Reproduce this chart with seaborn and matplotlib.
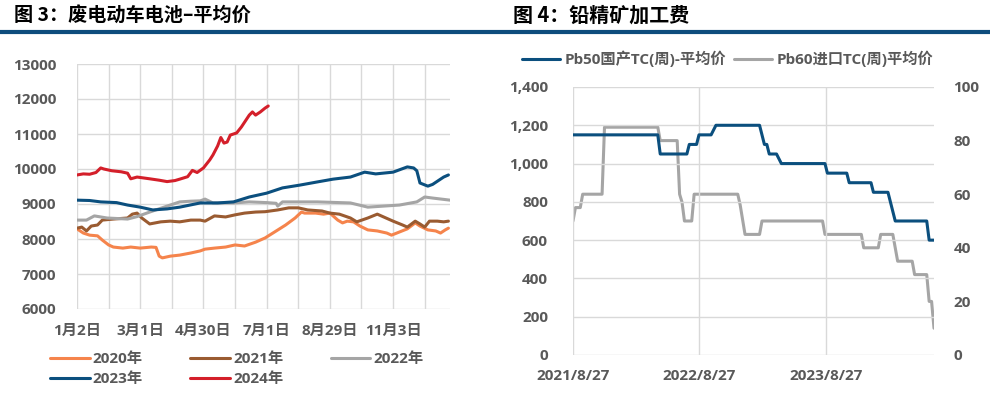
import numpy as np
import pandas as pd
import matplotlib
matplotlib.use("Agg")
import matplotlib.pyplot as plt
import seaborn as sns
from matplotlib.lines import Line2D
from matplotlib.ticker import FuncFormatter

# ---------------- data: left chart (trading-day index within year) ----------------
x_2020 = [0, 4, 8, 13, 16, 20, 23, 29, 34, 40, 47, 50, 52, 54, 59, 65, 72, 78, 81, 87, 94, 100, 106,
          113, 119, 125, 132, 138, 142, 144, 151, 156, 160, 165, 168, 171, 175, 179, 184, 190, 196,
          199, 204, 209, 214, 217, 222, 227, 230, 233, 235]
y_2020 = [8290, 8170, 8110, 8090, 7970, 7830, 7770, 7740, 7770, 7740, 7770, 7760, 7510, 7460, 7510,
          7540, 7600, 7660, 7710, 7740, 7770, 7830, 7800, 7910, 8030, 8200, 8400, 8600, 8770, 8740,
          8740, 8710, 8740, 8540, 8460, 8510, 8490, 8370, 8260, 8230, 8170, 8110, 8200, 8290, 8460,
          8370, 8260, 8230, 8170, 8260, 8310]

x_2021 = [0, 3, 6, 9, 13, 16, 23, 32, 35, 38, 41, 46, 53, 59, 65, 72, 78, 81, 87, 94, 100, 106, 113,
          119, 127, 134, 140, 146, 155, 160, 166, 173, 177, 184, 190, 194, 200, 206, 209, 214, 217,
          220, 223, 228, 232, 235]
y_2021 = [8310, 8340, 8230, 8370, 8400, 8540, 8570, 8600, 8710, 8740, 8600, 8430, 8490, 8510, 8490,
          8540, 8540, 8510, 8660, 8630, 8690, 8740, 8770, 8780, 8830, 8890, 8890, 8830, 8800, 8740,
          8710, 8600, 8490, 8600, 8710, 8630, 8510, 8400, 8340, 8510, 8430, 8340, 8510, 8510, 8490,
          8510]

x_2022 = [0, 6, 11, 19, 32, 38, 46, 57, 65, 72, 78, 81, 86, 99, 109, 120, 126, 127, 130, 152, 173,
          184, 194, 204, 215, 220, 225, 236]
y_2022 = [8540, 8540, 8660, 8600, 8570, 8640, 8770, 8940, 9060, 9080, 9090, 9140, 9030, 9030, 9060,
          9040, 9020, 8940, 9060, 9060, 9030, 8910, 8940, 8970, 9060, 9200, 9170, 9110]

x_2023 = [0, 8, 15, 25, 32, 40, 48, 57, 65, 78, 89, 99, 109, 120, 130, 141, 152, 162, 173, 182, 189,
          200, 209, 213, 215, 217, 222, 225, 232, 235]
y_2023 = [9110, 9100, 9060, 9040, 8970, 8910, 8830, 8860, 8910, 9030, 9030, 9060, 9200, 9310, 9460,
          9540, 9630, 9710, 9770, 9910, 9860, 9910, 10060, 10030, 9950, 9600, 9510, 9560, 9770, 9830]

x_2024 = [0, 4, 8, 12, 15, 17, 22, 28, 32, 34, 38, 46, 52, 57, 62, 65, 70, 73, 76, 80, 84, 86, 89,
          91, 93, 95, 97, 101, 104, 109, 111, 113, 116, 119, 121]
y_2024 = [9830, 9860, 9850, 9900, 10030, 10000, 9950, 9920, 9880, 9720, 9770, 9720, 9680, 9640, 9670,
          9710, 9780, 9960, 9900, 10030, 10260, 10400, 10660, 10900, 10740, 10770, 10970, 11030, 11200,
          11540, 11630, 11540, 11630, 11740, 11800]

left_tick_labels = ["1月2日", "", "3月1日", "", "4月30日", "", "7月1日", "", "8月29日", "", "11月3日", ""]
left_series_names = ["2020年", "2021年", "2022年", "2023年", "2024年"]

# ---------------- data: right chart (weeks since 2021/8/27) ----------------
start_date = "2021-08-27"
pb50_weeks = [0, 35, 36, 47, 48, 51, 52, 57, 59, 77, 79, 80, 81, 84, 86, 104, 105, 113, 114, 123,
              124, 130, 131, 133, 146, 147, 149]
pb50_tc = [1150, 1150, 1050, 1050, 1100, 1100, 1150, 1150, 1200, 1200, 1100, 1100, 1050, 1050, 1000,
           1000, 950, 950, 900, 900, 850, 850, 800, 700, 700, 600, 600]

pb60_weeks = [0, 1, 3, 4, 12, 13, 35, 36, 43, 44, 45, 46, 49, 50, 68, 69, 71, 77, 78, 103, 104, 119,
              120, 126, 127, 132, 133, 134, 140, 141, 146, 147, 148, 149]
pb60_tc = [50, 55, 55, 60, 60, 85, 85, 80, 80, 60, 57, 50, 50, 60, 60, 56, 45, 45, 50, 50, 45, 45, 40,
           40, 45, 45, 40, 35, 35, 30, 30, 20, 20, 10]

right_xtick_dates = ["2021-08-27", "2022-08-27", "2023-08-27"]
right_xtick_labels = ["2021/8/27", "2022/8/27", "2023/8/27"]
right_series_names = ["Pb50国产TC(周)-平均价", "Pb60进口TC(周)平均价"]

# ---------------- style ----------------
sns.set_theme(style="white")
plt.rcParams["font.family"] = ["Open Sans", "Noto Sans CJK SC", "DejaVu Sans"]
plt.rcParams["font.weight"] = "bold"

TXT = "#595959"
GRID = "#D9D9D9"
NAVY = "#0E4D7D"
colors_left = ["#F5844C", "#9A5B31", "#A5A5A5", "#0B4F7E", "#D41F2A"]
FS = 11

fig = plt.figure(figsize=(9.98, 4.03), dpi=100)
fig.patch.set_facecolor("white")

# title texts and bar
fig.text(14 / 998, 1 - 15 / 403, "图 3：废电动车电池–平均价", fontsize=13.8, fontweight="bold",
         va="center", ha="left", color="black", family=["Noto Sans CJK SC", "DejaVu Sans"])
fig.text(513 / 998, 1 - 15 / 403, "图 4：铅精矿加工费", fontsize=14.4, fontweight="bold",
         va="center", ha="left", color="black", family=["Noto Sans CJK SC", "DejaVu Sans"])
fig.add_artist(Line2D([0, 990 / 998], [1 - 32 / 403] * 2, color=NAVY, lw=3, solid_capstyle="butt"))

# ---------------- left chart ----------------
ax1 = fig.add_axes([77 / 998, 94 / 403, 373 / 998, 245 / 403])
xs = [x_2020, x_2021, x_2022, x_2023, x_2024]
ys = [y_2020, y_2021, y_2022, y_2023, y_2024]
for xx, yy, c, name in zip(xs, ys, colors_left, left_series_names):
    sns.lineplot(x=xx, y=yy, ax=ax1, color=c, lw=2.2, label=name, legend=False)
ax1.set_xlim(0, 236)
ax1.set_ylim(6000, 13000)
ax1.set_xticks(range(0, 221, 20))
ax1.set_xticklabels(left_tick_labels)
ax1.set_yticks(range(6000, 13001, 1000))
ax1.grid(True, color=GRID, lw=1)
ax1.set_axisbelow(True)
for s in ax1.spines.values():
    s.set_visible(False)
ax1.tick_params(axis="x", length=4, color=GRID, width=1, pad=7, labelsize=FS, labelcolor=TXT)
ax1.tick_params(axis="y", length=4, color=GRID, width=1, pad=11, labelsize=FS, labelcolor=TXT)
ax1.set_xlabel("")
ax1.set_ylabel("")

handles = [Line2D([], [], color=c, lw=2.2) for c in colors_left]
order = [0, 3, 1, 4, 2]
fig.legend([handles[i] for i in order], [left_series_names[i] for i in order],
           loc="upper left", bbox_to_anchor=(50 / 998, 1 - 352 / 403), ncol=3, frameon=False,
           fontsize=FS, labelcolor=TXT, handlelength=2.6, handletextpad=0.2, columnspacing=3.1,
           borderpad=0, borderaxespad=0, labelspacing=0.42)

# ---------------- right chart ----------------
d0 = pd.Timestamp(start_date)
pb50_dates = [d0 + pd.Timedelta(days=7 * w) for w in pb50_weeks]
pb60_dates = [d0 + pd.Timedelta(days=7 * w) for w in pb60_weeks]

ax2 = fig.add_axes([573 / 998, 48 / 403, 361 / 998, 268 / 403])
ax3 = ax2.twinx()
sns.lineplot(x=pb50_dates, y=pb50_tc, ax=ax2, color="#0B4F7E", lw=2.2, legend=False)
sns.lineplot(x=pb60_dates, y=pb60_tc, ax=ax3, color="#A5A5A5", lw=2.2, legend=False)
ax2.set_zorder(ax3.get_zorder() + 1)
ax2.patch.set_visible(False)

ax2.set_xlim(d0, d0 + pd.Timedelta(days=7 * 149))
ax2.set_ylim(0, 1400)
ax3.set_ylim(0, 100)
ax2.set_yticks(range(0, 1401, 200))
ax2.yaxis.set_major_formatter(FuncFormatter(lambda v, p: f"{v:,.0f}"))
ax3.set_yticks(range(0, 101, 20))
ax2.set_xticks([pd.Timestamp(d) for d in right_xtick_dates])
ax2.set_xticklabels(right_xtick_labels)
ax2.grid(True, color=GRID, lw=1)
ax3.grid(False)
for a in (ax2, ax3):
    for s in a.spines.values():
        s.set_visible(False)
ax2.tick_params(axis="x", length=4, color=GRID, width=1, pad=6, labelsize=FS, labelcolor=TXT)
ax2.tick_params(axis="y", length=0, pad=18, labelsize=FS, labelcolor=TXT)
ax3.tick_params(axis="y", length=0, pad=14, labelsize=FS, labelcolor=TXT)
for a in (ax2, ax3):
    a.set_xlabel("")
    a.set_ylabel("")

rh = [Line2D([], [], color="#0B4F7E", lw=2.2), Line2D([], [], color="#A5A5A5", lw=2.2)]
fig.legend(rh, right_series_names, loc="upper left", bbox_to_anchor=(522 / 998, 1 - 51 / 403),
           ncol=2, frameon=False, fontsize=FS, labelcolor=TXT, handlelength=2.5, handletextpad=0.3,
           columnspacing=0.5, borderpad=0, borderaxespad=0)

fig.savefig("out.png", dpi=100, facecolor="white")
